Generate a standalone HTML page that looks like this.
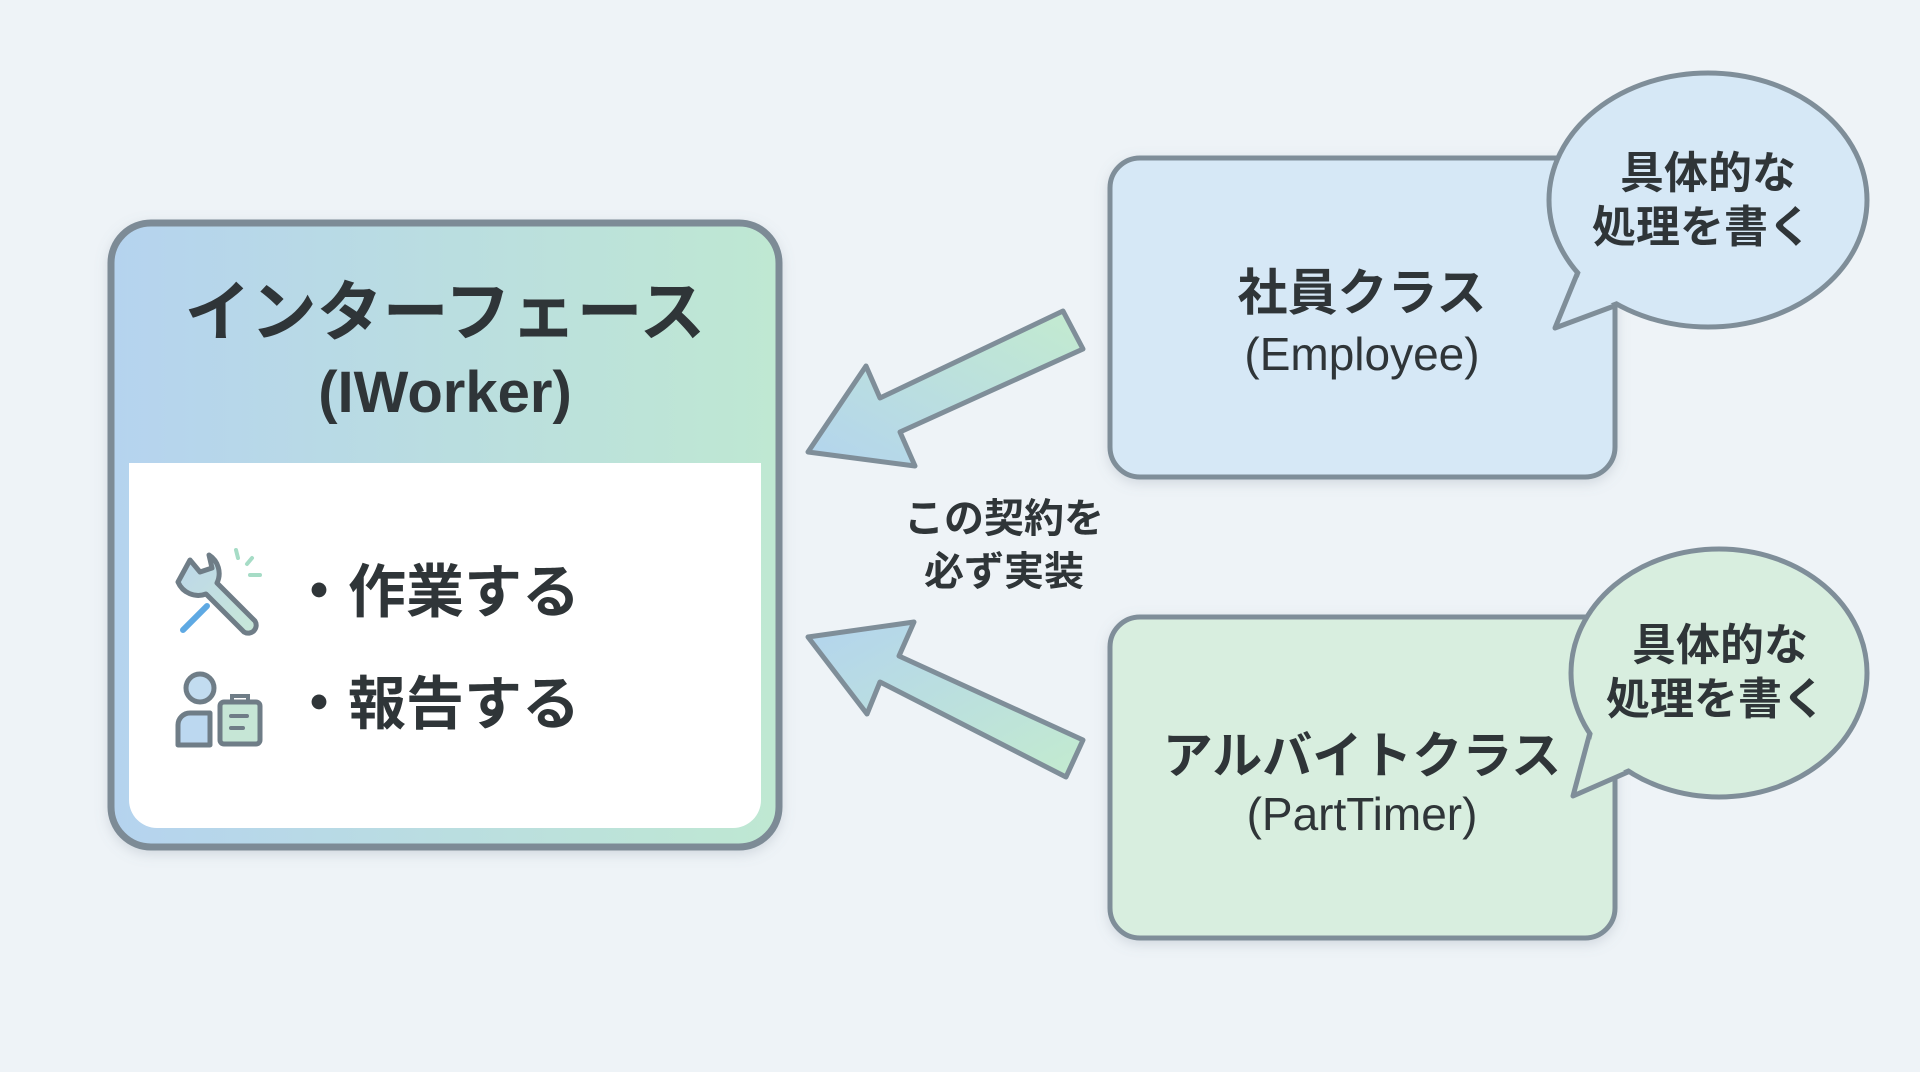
<!DOCTYPE html>
<html><head><meta charset="utf-8"><style>
html,body{margin:0;padding:0;width:1920px;height:1072px;overflow:hidden;background:#eef3f7}
svg{display:block}
text{font-family:"Liberation Sans","Noto Sans CJK JP",sans-serif;fill:#2f3538}
</style></head><body>
<svg width="1920" height="1072" viewBox="0 0 1920 1072" xmlns="http://www.w3.org/2000/svg">
<defs>
<linearGradient id="hg" x1="0" y1="0" x2="1" y2="0"><stop offset="0" stop-color="#b5d3ef"/><stop offset="1" stop-color="#bfe8d2"/></linearGradient>
<linearGradient id="ag1" x1="0" y1="1" x2="1" y2="0"><stop offset="0" stop-color="#b3d4ee"/><stop offset="1" stop-color="#c3ebcf"/></linearGradient>
<linearGradient id="ag2" x1="0" y1="0" x2="1" y2="1"><stop offset="0" stop-color="#b3d4ee"/><stop offset="1" stop-color="#c3ebcf"/></linearGradient>
<linearGradient id="wg" x1="0" y1="0" x2="1" y2="1"><stop offset="0" stop-color="#bcd6ea"/><stop offset="1" stop-color="#c8e8d8"/></linearGradient>
<filter id="sh" x="-10%" y="-10%" width="120%" height="120%"><feDropShadow dx="0" dy="4" stdDeviation="6" flood-color="#7a8a96" flood-opacity="0.25"/></filter>
</defs>
<!-- left box -->
<rect x="111" y="223" width="668" height="624" rx="40" fill="url(#hg)" stroke="#7d8b96" stroke-width="7" filter="url(#sh)"/>
<path d="M129 463 H761 V800 a28 28 0 0 1 -28 28 H157 a28 28 0 0 1 -28 -28 Z" fill="#fff"/>
<text x="445" y="335" font-size="66" font-weight="bold" text-anchor="middle">インターフェース</text>
<text x="445" y="412" font-size="58" font-weight="bold" text-anchor="middle" fill="#353b3f">(IWorker)</text>
<text x="290" y="612" font-size="58" font-weight="bold">・作業する</text>
<text x="290" y="724" font-size="58" font-weight="bold">・報告する</text>
<!-- wrench -->
<g stroke="#6f7d87" stroke-width="5" stroke-linejoin="round" stroke-linecap="round">
<path d="M190 560 l10 12 l12 -4 l-3 -13 a22 22 0 0 1 8 28 l38 38 a8 8 0 0 1 -11 11 l-38 -38 a22 22 0 0 1 -28 -12 Z" fill="url(#wg)"/>
</g>
<path d="M183 630 L207 606" stroke="#5ea9e3" stroke-width="6" stroke-linecap="round"/>
<g stroke="#a6dcc6" stroke-width="4" stroke-linecap="round"><path d="M236 550 l2 8"/><path d="M252 558 l-5 6"/><path d="M250 575 h10"/></g>
<!-- person + clipboard -->
<circle cx="200" cy="688" r="14" fill="#c2dcf0" stroke="#6f7d87" stroke-width="5"/>
<path d="M178 745 V725 a12 12 0 0 1 12 -12 h20 V745 Z" fill="#bcd8f0" stroke="#6f7d87" stroke-width="5" stroke-linejoin="round"/>
<rect x="220" y="702" width="40" height="42" rx="4" fill="#c6e6d6" stroke="#6f7d87" stroke-width="5"/>
<path d="M232 702 v-6 h16 v6" fill="none" stroke="#6f7d87" stroke-width="4"/>
<path d="M231 716 h16 M231 728 h12" stroke="#6f7d87" stroke-width="4" stroke-linecap="round"/>
<!-- arrows -->
<g stroke="#7f8e99" stroke-width="5" stroke-linejoin="round">
<path d="M1063 311 L1083 349 L900 432 L915 466 L808 452 L866 366 L880 398 Z" fill="url(#ag1)"/>
<path d="M1083 740 L1066 777 L880 682 L867 714 L808 637 L914 622 L899 656 Z" fill="url(#ag2)"/>
</g>
<text x="1004" y="532" font-size="40" font-weight="bold" text-anchor="middle" fill="#3a4044">この契約を</text>
<text x="1004" y="585" font-size="40" font-weight="bold" text-anchor="middle" fill="#3a4044">必ず実装</text>
<!-- employee -->
<rect x="1110" y="158" width="505" height="319" rx="30" fill="#d6e8f6" stroke="#7f8e99" stroke-width="5" filter="url(#sh)"/>
<text x="1362" y="310" font-size="50" font-weight="bold" text-anchor="middle">社員クラス</text>
<text x="1362" y="370" font-size="46" text-anchor="middle">(Employee)</text>
<path d="M1582 262 L1555 328 L1625 302 Z" fill="#d6e8f6" stroke="#7f8e99" stroke-width="5" stroke-linejoin="round"/>
<ellipse cx="1708" cy="200" rx="159" ry="127" fill="#d6e8f6" stroke="#7f8e99" stroke-width="5"/>
<path d="M1586 258 L1562 322 L1630 296 Z" fill="#d6e8f6"/>
<text x="1708" y="188" font-size="44" font-weight="bold" text-anchor="middle">具体的な</text>
<text x="1702" y="242" font-size="44" font-weight="bold" text-anchor="middle">処理を書く</text>
<!-- parttimer -->
<rect x="1110" y="617" width="505" height="321" rx="30" fill="#d8eedf" stroke="#7f8e99" stroke-width="5" filter="url(#sh)"/>
<text x="1362" y="773" font-size="50" font-weight="bold" text-anchor="middle">アルバイトクラス</text>
<text x="1362" y="830" font-size="46" text-anchor="middle">(PartTimer)</text>
<path d="M1592 725 L1573 796 L1628 772 Z" fill="#d8eedf" stroke="#7f8e99" stroke-width="5" stroke-linejoin="round"/>
<ellipse cx="1719" cy="673" rx="148" ry="124" fill="#d8eedf" stroke="#7f8e99" stroke-width="5"/>
<path d="M1596 720 L1579 789 L1634 766 Z" fill="#d8eedf"/>
<text x="1720" y="660" font-size="44" font-weight="bold" text-anchor="middle">具体的な</text>
<text x="1716" y="714" font-size="44" font-weight="bold" text-anchor="middle">処理を書く</text>
</svg>
</body></html>
